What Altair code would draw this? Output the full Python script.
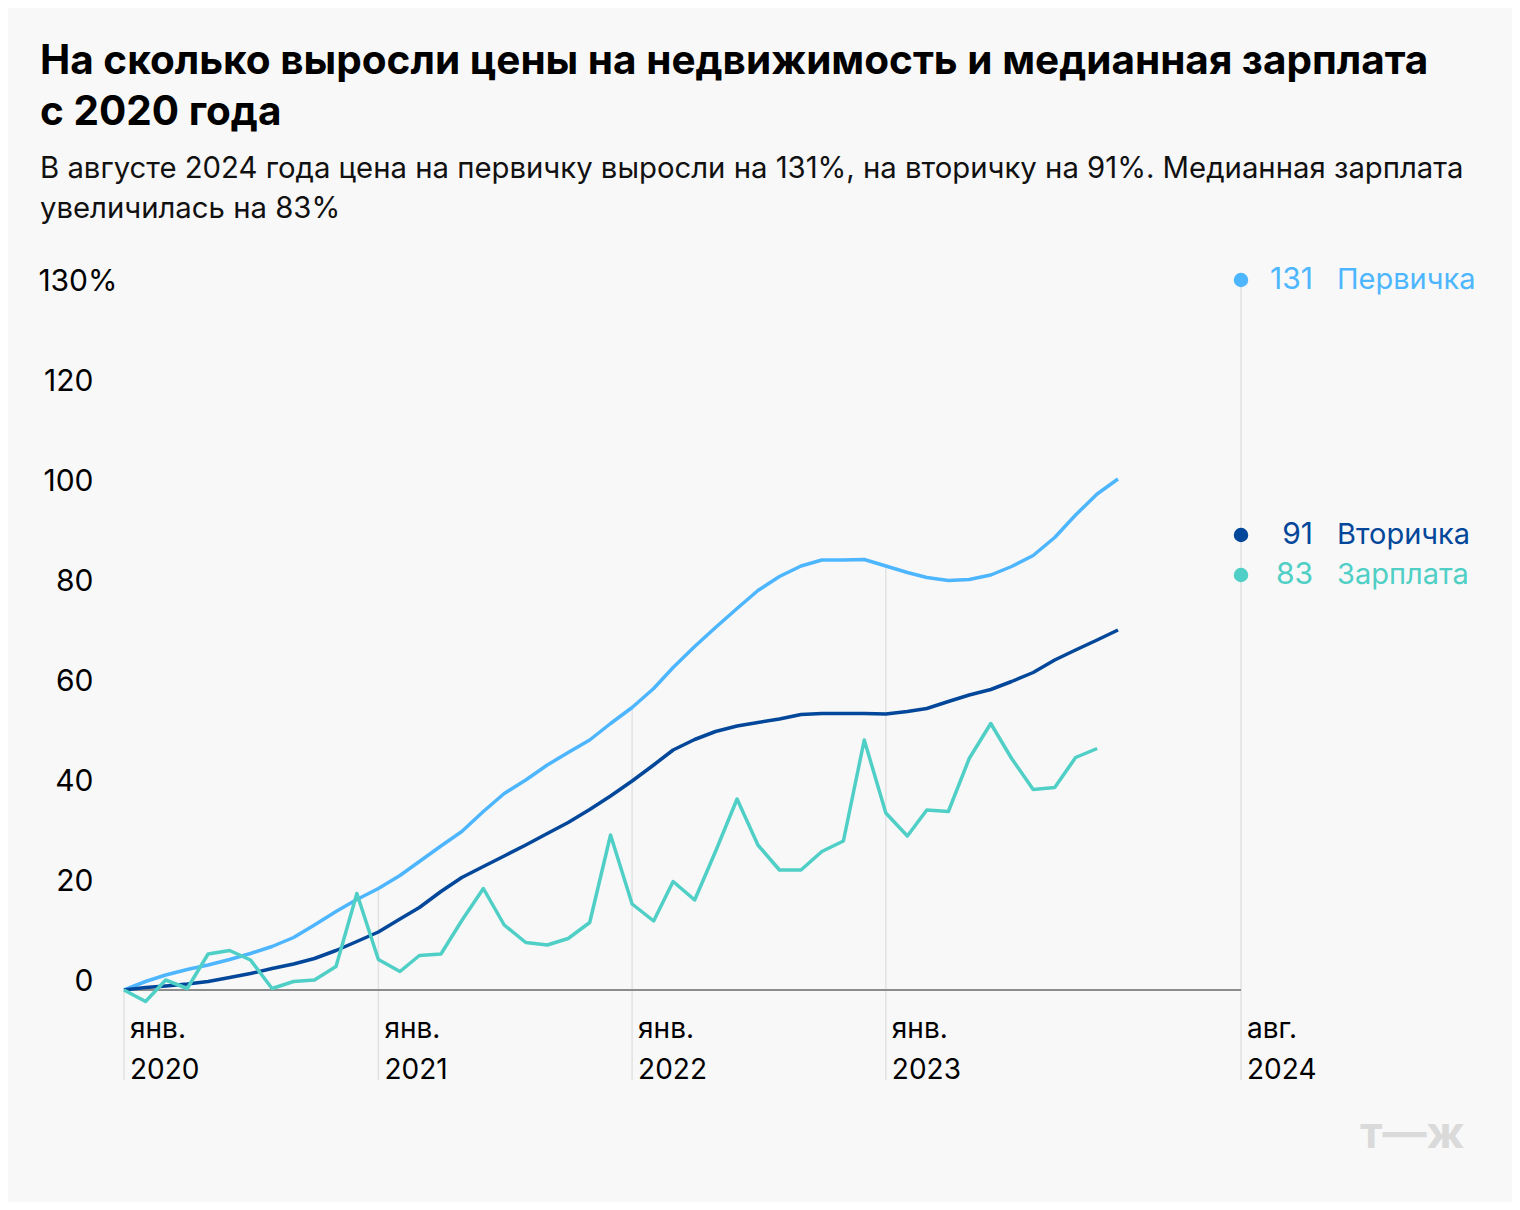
import altair as alt
import pandas as pd

# ---------------- data ----------------
MONTHS = [d.strftime("%Y-%m-%d") for d in pd.date_range("2020-01-01", "2023-12-01", freq="MS")]

PERVICHKA = [0, 1.7, 3.0, 4.1, 5.0, 6.1, 7.3, 8.7, 10.5, 13.0, 15.7, 18.1,
             20.3, 22.9, 25.7, 28.8, 31.7, 35.7, 39.3, 42.0, 45.0, 47.5, 50.0, 53.3,
             56.5, 60.3, 64.5, 68.7, 72.5, 76.3, 79.9, 82.7, 84.8, 86.0, 86.0, 86.1,
             84.8, 83.5, 82.5, 81.9, 82.1, 83.0, 84.7, 86.9, 90.5, 95.0, 99.2, 102.2]
VTORICHKA = [0, 0.5, 0.8, 1.2, 1.7, 2.5, 3.3, 4.3, 5.2, 6.3, 7.9, 9.7,
             11.6, 14.2, 16.5, 19.7, 22.5, 24.7, 26.8, 29.0, 31.3, 33.5, 36.1, 38.8,
             41.8, 45.0, 48.0, 50.1, 51.7, 52.8, 53.5, 54.2, 55.1, 55.3, 55.3, 55.3,
             55.2, 55.7, 56.3, 57.7, 59.0, 60.1, 61.7, 63.5, 66.0, 68.0, 70.0, 72.0]
ZARPLATA = [0, -2.3, 2.0, 0.3, 7.2, 7.9, 6.0, 0.3, 1.7, 2.0, 4.7, 19.3,
            6.1, 3.7, 6.9, 7.2, 13.9, 20.3, 13.0, 9.5, 9.0, 10.3, 13.5, 31.0,
            17.2, 13.8, 21.7, 18.0, 27.7, 38.2, 29.0, 24.0, 24.0, 27.7, 29.8, 50.0,
            35.4, 30.8, 36.0, 35.7, 46.3, 53.3, 46.3, 40.1, 40.5, 46.5, 48.3]

SERIES = ["Первичка", "Вторичка", "Зарплата"]
COLORS = ["#4DB6FF", "#02479A", "#4FCFC5"]
END_VALUES = [131, 91, 83]          # values in August 2024 (right-hand labels)

AXIS_END = "2024-05-26"             # right edge of the time axis, labelled "авг. 2024"
X_TICKS = ["2020-01-01", "2021-01-01", "2022-01-01", "2023-01-01", AXIS_END]
X_LABELS = ["янв.\n2020", "янв.\n2021", "янв.\n2022", "янв.\n2023", "авг.\n2024"]
Y_TICKS = [0, 20, 40, 60, 80, 100, 120, 130]
Y_LABELS = ["0", "20", "40", "60", "80", "100", "120", "130%"]

TITLE = ["На сколько выросли цены на недвижимость и медианная зарплата", "с 2020 года"]
SUBTITLE = ["В августе 2024 года цена на первичку выросли на 131%, на вторичку на 91%. Медианная зарплата",
            "увеличилась на 83%"]

FONT = "Inter"
W, H = 1117, 700

# ---------------- tables ----------------
rows = []
for name, vals in zip(SERIES, [PERVICHKA, VTORICHKA, ZARPLATA]):
    for d, v in zip(MONTHS, vals):
        rows.append({"date": d, "value": v, "series": name})
lines_df = pd.DataFrame(rows)

end_df = pd.DataFrame({"date": [AXIS_END] * 3, "value": END_VALUES, "series": SERIES,
                       "num": [str(v) for v in END_VALUES]})

# drop lines: from the top series down to below the axis labels
drop_tops = [PERVICHKA[MONTHS.index(t)] for t in X_TICKS[:-1]] + [max(END_VALUES)]
drop_df = pd.DataFrame({"date": X_TICKS, "value": drop_tops})
xlab_df = pd.DataFrame({"date": X_TICKS, "label": X_LABELS})
base_df = pd.DataFrame({"date": [X_TICKS[0], AXIS_END], "value": [0, 0]})

label_map = "{" + ",".join(f"'{t}':'{l}'" for t, l in zip(Y_TICKS, Y_LABELS)) + "}"

xscale = alt.Scale(domain=[X_TICKS[0], AXIS_END], nice=False)
yscale = alt.Scale(domain=[0, 120, 130], range=[H, H - 600, 0], nice=False, zero=False)
color_scale = alt.Scale(domain=SERIES, range=COLORS)

X = alt.X("date:T", scale=xscale, axis=None)
yaxis = alt.Axis(values=Y_TICKS, labelExpr=f"{label_map}[datum.value]",
                 grid=False, domain=False, ticks=False,
                 labelAlign="right", labelBaseline="alphabetic",
                 labelPadding={"condition": {"test": "datum.value == 130", "value": 7},
                               "value": 31},
                 labelFont=FONT, labelFontSize=30, labelColor="#000000",
                 labelFlush=False, labelOverlap=False, title=None)
Y = alt.Y("value:Q", scale=yscale, axis=yaxis)

drops = alt.Chart(drop_df).mark_rule(color="#E2E2E2", strokeWidth=1.5).encode(
    x=X, y=Y, y2=alt.value(H + 90))

baseline = alt.Chart(base_df).mark_line(color="#8C8C8C", strokeWidth=2).encode(x=X, y=Y)

lines = alt.Chart(lines_df).mark_line(strokeWidth=3.5, strokeJoin="round").encode(
    x=X, y=Y,
    color=alt.Color("series:N", scale=color_scale, legend=None),
    detail="series:N")

dots = alt.Chart(end_df).mark_circle(size=210, opacity=1).encode(
    x=X, y=Y, color=alt.Color("series:N", scale=color_scale, legend=None))

nums = alt.Chart(end_df).mark_text(align="right", baseline="middle", dx=72,
                                    font=FONT, fontSize=30).encode(
    x=X, y=Y, text="num:N",
    color=alt.Color("series:N", scale=color_scale, legend=None))

names = alt.Chart(end_df).mark_text(align="left", baseline="middle", dx=96,
                                     font=FONT, fontSize=29).encode(
    x=X, y=Y, text="series:N",
    color=alt.Color("series:N", scale=color_scale, legend=None))

xlabels = alt.Chart(xlab_df).mark_text(align="left", baseline="alphabetic", dx=6,
                                        lineBreak="\n", lineHeight=41,
                                        font=FONT, fontSize=28, color="#000000").encode(
    x=X, y=alt.value(H + 48), text="label:N")

logo = alt.Chart(pd.DataFrame({"t": ["т—ж"]})).mark_text(
    align="left", baseline="alphabetic", font=FONT, fontSize=44, fontWeight="bold",
    color="#DADADA").encode(x=alt.value(W + 119), y=alt.value(H + 158), text="t:N")

chart = alt.layer(drops, baseline, lines, dots, nums, names, xlabels, logo).properties(
    width=W, height=H,
    background="#F8F8F8",
    padding={"left": 116, "top": 282, "right": 271, "bottom": 212},
    autosize=alt.AutoSizeParams(type="none"),
    title=alt.TitleParams(
        text=TITLE, subtitle=SUBTITLE, anchor="start", frame="group", dx=-84, offset=41,
        font=FONT, fontSize=40.5, fontWeight="bold", lineHeight=51, color="#000000",
        subtitleFont=FONT, subtitleFontSize=29.3, subtitleLineHeight=40,
        subtitleColor="#111111", subtitlePadding=21),
).configure_view(stroke=None)

chart.save("out.html", embed_options={"renderer": "svg", "actions": False})
